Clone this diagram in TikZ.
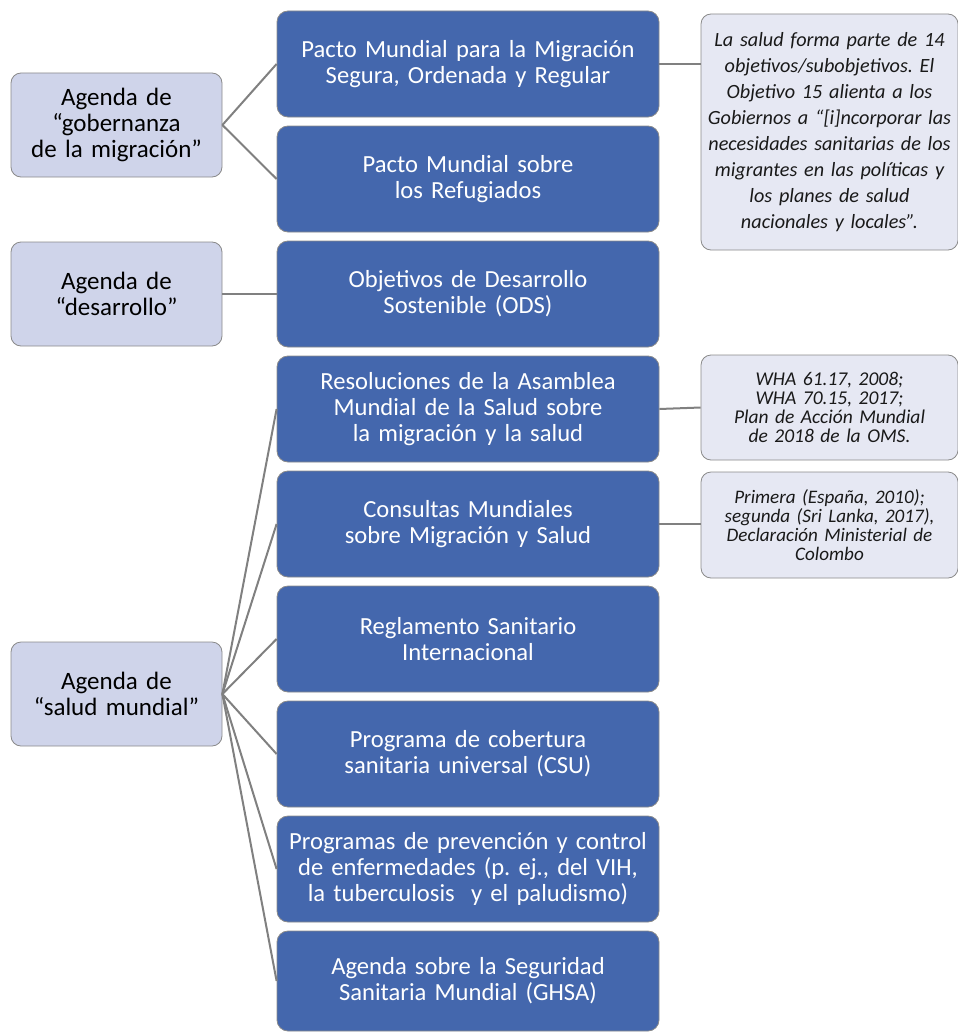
\documentclass[tikz,border=0pt]{standalone}
\usepackage{fontspec}
\setmainfont{Carlito}
\frenchspacing
\definecolor{bluefill}{HTML}{4467AD}
\definecolor{lavfill}{HTML}{CFD4EA}
\definecolor{notefill}{HTML}{E6E8F3}
\definecolor{edgegray}{HTML}{8A8A8A}
\definecolor{linegray}{HTML}{808080}
\tikzset{
  bluebox/.style={draw=edgegray, line width=0.8pt, fill=bluefill, rounded corners=11pt,
    minimum width=382pt, minimum height=106pt, text width=376pt, align=center,
    text=white, inner sep=0pt, font=\fontsize{24.6}{26}\selectfont},
  agendabox/.style={draw=edgegray, line width=0.8pt, fill=lavfill, rounded corners=10pt,
    minimum width=211pt, minimum height=104pt, text width=205pt, align=center,
    text=black, inner sep=0pt, font=\fontsize{25}{26}\selectfont},
  notebox/.style={draw=edgegray, line width=0.8pt, fill=notefill, rounded corners=10pt,
    minimum width=257pt, text width=256pt, align=center,
    text=black!90, inner sep=0pt},
  conn/.style={draw=linegray, line width=2pt}
}
\begin{document}
\begin{tikzpicture}[x=1pt,y=-1pt]
\useasboundingbox (0,0) rectangle (958,1033);
% agenda boxes
\node[agendabox] (gob) at (116.5,125) {Agenda de\\“gobernanza\\de la migración”};
\node[agendabox] (des) at (116.5,294) {Agenda de\\“desarrollo”};
\node[agendabox] (sal) at (116.5,694) {Agenda de\\“salud mundial”};
% blue boxes
\node[bluebox] (b1) at (468,64) {Pacto Mundial para la Migración\\Segura, Ordenada y Regular};
\node[bluebox] (b2) at (468,179) {Pacto Mundial sobre\\los Refugiados};
\node[bluebox] (b3) at (468,294) {Objetivos de Desarrollo\\Sostenible (ODS)};
\node[bluebox] (b4) at (468,409) {Resoluciones de la Asamblea\\Mundial de la Salud sobre\\la migración y la salud};
\node[bluebox] (b5) at (468,524) {Consultas Mundiales\\sobre Migración y Salud};
\node[bluebox] (b6) at (468,639) {Reglamento Sanitario\\Internacional};
\node[bluebox] (b7) at (468,754) {Programa de cobertura\\sanitaria universal (CSU)};
\node[bluebox] (b8) at (468,869) {Programas de prevención y control\\de enfermedades (p. ej., del VIH,\\la tuberculosis\ \ y el paludismo)};
\node[bluebox, minimum height=100pt] (b9) at (468,981) {Agenda sobre la Seguridad\\Sanitaria Mundial (GHSA)};
% notes
\node[notebox, minimum height=236pt, font=\itshape\fontsize{20.2}{26}\selectfont] (n1) at (829.5,132)
  {La salud forma parte de 14\\objetivos/subobjetivos. El\\Objetivo 15 alienta a los\\Gobiernos a “[i]ncorporar las\\necesidades sanitarias de los\\migrantes en las políticas y\\los planes de salud\\nacionales y locales”.};
\node[notebox, minimum height=105pt, font=\itshape\fontsize{19.5}{19.2}\selectfont] (n2) at (829.5,407.5)
  {WHA 61.17, 2008;\\WHA 70.15, 2017;\\Plan de Acción Mundial\\de 2018 de la OMS.};
\node[notebox, minimum height=106pt, font=\itshape\fontsize{19.1}{19.2}\selectfont] (n3) at (829.5,525)
  {Primera (España, 2010);\\segunda (Sri Lanka, 2017),\\Declaración Ministerial de\\Colombo};
% connectors
\draw[conn] (gob.east) -- (b1.west);
\draw[conn] (gob.east) -- (b2.west);
\draw[conn] (des.east) -- (b3.west);
\foreach \b in {b4,b5,b6,b7,b8,b9} { \draw[conn] (sal.east) -- (\b.west); }
\draw[conn] (b1.east) -- (n1.west |- b1.east);
\draw[conn] (b4.east) -- (n2.west);
\draw[conn] (b5.east) -- (n3.west |- b5.east);
\end{tikzpicture}
\end{document}
